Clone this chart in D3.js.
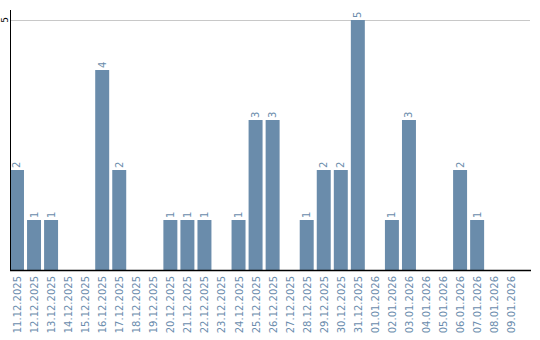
<!DOCTYPE html>
<html>
<head>
<meta charset="utf-8">
<script src="https://cdn.jsdelivr.net/npm/d3@7"></script>
<style>
    body { margin: 0; background: #fff; }
    svg { display: block; }
</style>
</head>
<body>
<div id="chart"></div>
<script>
const dates = [
    "11.12.2025", "12.12.2025", "13.12.2025", "14.12.2025", "15.12.2025",
    "16.12.2025", "17.12.2025", "18.12.2025", "19.12.2025", "20.12.2025",
    "21.12.2025", "22.12.2025", "23.12.2025", "24.12.2025", "25.12.2025",
    "26.12.2025", "27.12.2025", "28.12.2025", "29.12.2025", "30.12.2025",
    "31.12.2025", "01.01.2026", "02.01.2026", "03.01.2026", "04.01.2026",
    "05.01.2026", "06.01.2026", "07.01.2026", "08.01.2026", "09.01.2026"
]
const counts = [2, 1, 1, 0, 0, 4, 2, 0, 0, 1, 1, 1, 0, 1, 3, 3, 0, 1, 2, 2, 5, 0, 1, 3, 0, 0, 2, 1, 0, 0]
const yTicks = [5]

const data = dates.map((d, i) => ({ date: d, value: counts[i] }))

const width = 540
const height = 340
const left = 10
const right = 531
const baseY = 270
const barColor = "#6a8cab"

const svg = d3.select("#chart")
    .append("svg")
    .attr("width", width)
    .attr("height", height)
    .style("font-family", "DejaVu Sans, sans-serif")

const x = d3.scaleBand()
    .domain(dates)
    .range([left, 518.2])
    .paddingInner(0.18)
    .paddingOuter(0)

const y = d3.scaleLinear()
    .domain([0, 5])
    .range([baseY, 20])

// grid line
svg.append("g")
    .selectAll("line")
    .data(yTicks)
    .join("line")
    .attr("x1", left)
    .attr("x2", 530)
    .attr("y1", d => y(d) + 0.5)
    .attr("y2", d => y(d) + 0.5)
    .attr("stroke", "#c8c8c8")

// bars
svg.append("g")
    .selectAll("rect")
    .data(data.filter(d => d.value > 0))
    .join("rect")
    .attr("x", d => x(d.date))
    .attr("y", d => y(d.value))
    .attr("width", x.bandwidth())
    .attr("height", d => baseY - y(d.value))
    .attr("fill", barColor)

// value labels
svg.append("g")
    .selectAll("text")
    .data(data.filter(d => d.value > 0))
    .join("text")
    .attr("transform", d => `translate(${x(d.date) + x.bandwidth() / 2 + 3.5}, ${y(d.value) - 2}) rotate(-90)`)
    .attr("text-anchor", "start")
    .style("font-size", "10px")
    .style("fill", barColor)
    .text(d => d.value)

// y axis
svg.append("line")
    .attr("x1", left + 0.5)
    .attr("x2", left + 0.5)
    .attr("y1", 10)
    .attr("y2", baseY)
    .attr("stroke", "#000")

svg.append("g")
    .selectAll("text")
    .data(yTicks)
    .join("text")
    .attr("transform", d => `translate(8, ${y(d)}) rotate(-90)`)
    .attr("text-anchor", "middle")
    .style("font-size", "9px")
    .style("fill", "#000")
    .text(d => d)

// x axis
svg.append("line")
    .attr("x1", left)
    .attr("x2", right)
    .attr("y1", baseY + 0.5)
    .attr("y2", baseY + 0.5)
    .attr("stroke", "#000")
    .attr("stroke-width", 1.5)

svg.append("g")
    .selectAll("text")
    .data(dates)
    .join("text")
    .attr("transform", d => `translate(${x(d) + x.bandwidth() / 2 + 4}, 276) rotate(-90)`)
    .attr("text-anchor", "end")
    .style("font-size", "10px")
    .style("fill", "#6b8cad")
    .text(d => d)
</script>
</body>
</html>
